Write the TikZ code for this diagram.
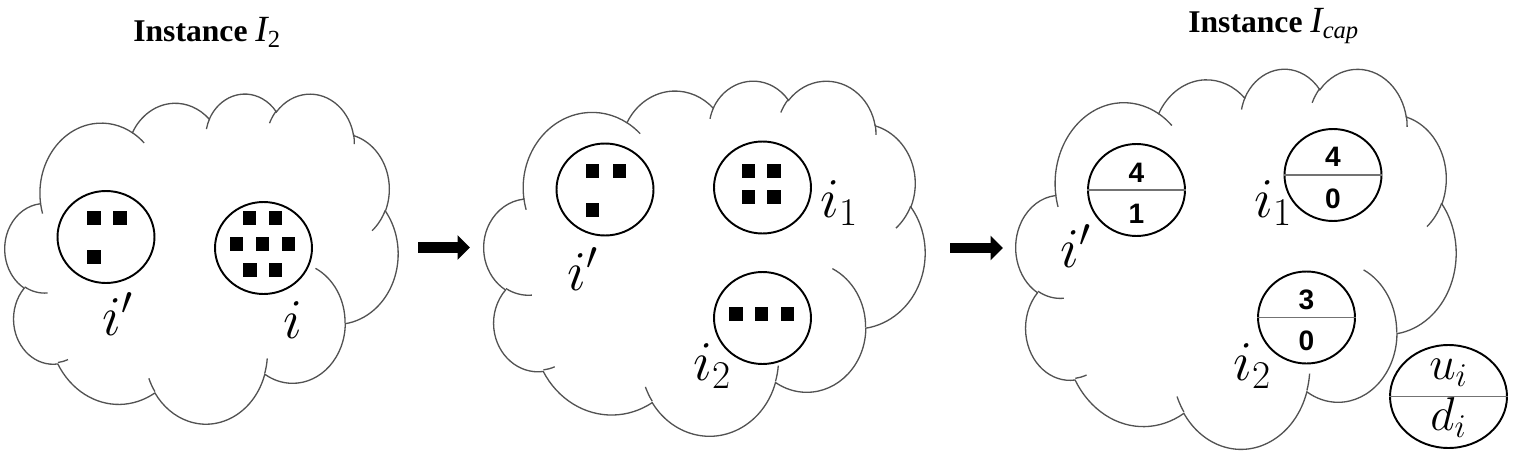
\RequirePackage{fix-cm}
\documentclass[tikz,border=0pt]{standalone}
\usepackage[no-math]{fontspec}
\setsansfont{Liberation Sans}
\newfontfamily\titlefont{Liberation Serif}
\usetikzlibrary{arrows.meta,shapes.geometric,calc}

% visual angle -> parametric angle on an ellipse
\tikzset{declare function={cpa(\wa,\hb,\ang)=\ang+Mod(atan2(\wa*sin(\ang),\hb*cos(\ang))-\ang+180,360)-180;}}
\newcommand{\carc}[4]{arc[x radius=#1, y radius=#2, start angle={cpa(#1,#2,#3)}, end angle={cpa(#1,#2,#3+#4)}]}

% cloud in a box: left, top, width, height
\newcommand{\drawcloud}[4]{%
  \begin{scope}[shift={(#1,#2)}, xscale=#3/43.2, yscale=#4/43.2]
    \draw[cloudline] (3.900,14.370) \carc{6.753}{9.190}{-190.4875}{123.7805}
      \carc{5.333}{7.267}{-144.1024}{89.9452}
      \carc{4.365}{5.945}{-145.8079}{99.7230}
      \carc{4.857}{6.595}{-130.9861}{117.2417}
      \carc{5.333}{7.273}{-78.7089}{109.0269}
      \carc{6.775}{9.220}{-46.2673}{130.2690}
      \carc{5.785}{7.867}{0.6250}{114.0333}
      \carc{6.752}{9.215}{22.4516}{115.1726}
      \carc{7.720}{10.543}{66.2426}{75.7110}
      \carc{4.360}{5.918}{-274.9421}{146.7356}
      \carc{4.345}{5.945}{-246.8285}{152.5189} -- cycle;
    \draw[cloudline]
      (4.693,26.177) \carc{4.345}{5.945}{86.742}{26.4295}
      (6.928,34.899) \carc{4.360}{5.918}{73.6105}{11.4475}
      (16.478,39.090) \carc{6.752}{9.215}{137.6242}{14.0811}
      (28.827,34.751) \carc{6.752}{9.215}{6.4533}{15.9984}
      (34.129,22.954) \carc{5.785}{7.867}{-70.2924}{70.9174}
      (41.798,15.354) \carc{5.333}{7.273}{30.3180}{27.7515}
      (38.324,5.426) \carc{4.857}{6.595}{-13.7443}{14.8589}
      (29.078,3.952) \carc{4.857}{6.595}{-149.1815}{18.1954}
      (22.141,4.720) \carc{4.365}{5.945}{-163.4943}{17.6864}
      (14.000,5.192) \carc{6.753}{9.190}{-66.7070}{12.3194}
      (4.127,15.789) \carc{6.753}{9.190}{157.6544}{11.8582};
  \end{scope}}

\begin{document}
\begin{tikzpicture}[x=0.02cm, y=-0.02cm,
    cloudline/.style={draw=black!68, line width=0.75pt},
    pool/.style={draw, ellipse, line width=1.1pt, fill=white,
                 minimum width=1.94cm, minimum height=1.84cm, inner sep=0pt},
    token/.style={fill=black, minimum size=0.27cm, inner sep=0pt},
    divider/.style={draw=black!55, line width=1.1pt},
    lab/.style={inner sep=0pt, anchor=base west, font=\fontsize{32}{34}\selectfont},
    keylab/.style={inner sep=0pt, anchor=base, font=\fontsize{27}{29}\selectfont},
    num/.style={inner sep=0pt, anchor=base, font=\sffamily\bfseries\fontsize{16}{18}\selectfont},
    ttl/.style={inner sep=0pt, anchor=base west, font=\titlefont\fontsize{18}{20}\selectfont},
    bigarrow/.style={line width=0.22cm, -{Triangle[length=0.25cm, width=0.48cm]}}]
    \useasboundingbox (0,0) rectangle (1525,473);

    % titles
    \node[ttl] (ttl1) at (133,42) {\bfseries Instance\ \mdseries\itshape\fontsize{21}{22}\selectfont I\raisebox{-0.35ex}{\upshape\fontsize{14}{14}\selectfont 2}};
    \node[ttl] (ttl2) at (1188,33) {\bfseries Instance\ \mdseries\itshape\fontsize{21}{22}\selectfont I\raisebox{-0.35ex}{\fontsize{14}{14}\selectfont cap}};

    % clouds
    \drawcloud{5}{93}{393}{330}
    \drawcloud{484}{80}{441}{355}
    \drawcloud{1016}{68}{440}{380}

    % instance I_2
    \node[pool] (p1a) at (106,237) {};
    \node[pool] (p1b) at (263.5,248) {};
    \foreach \x/\y [count=\k] in {94/218, 120/218, 94/257}
        \node[token] (s1a-\k) at (\x,\y) {};
    \foreach \x/\y [count=\k] in {249.5/218, 275.5/218, 236.5/244, 262.5/244,
                                  288.5/244, 250/270, 275.5/270}
        \node[token] (s1b-\k) at (\x,\y) {};
    \node[lab] (l1a) at (102,335) {$i'$};
    \node[lab] (l1b) at (283,338) {$i$};

    % split
    \node[pool] (p2a) at (605,189.5) {};
    \node[pool] (p2b) at (762.5,187.5) {};
    \node[pool] (p2c) at (762.5,318) {};
    \foreach \x/\y [count=\k] in {592.5/171, 619.5/171, 592.5/210}
        \node[token] (s2a-\k) at (\x,\y) {};
    \foreach \x/\y [count=\k] in {748.5/171, 774/171, 748.5/197, 774/197}
        \node[token] (s2b-\k) at (\x,\y) {};
    \foreach \x/\y [count=\k] in {736/314, 761.5/314, 787.5/314}
        \node[token] (s2c-\k) at (\x,\y) {};
    \node[lab] (l2a) at (567,290) {$i'$};
    \node[lab] (l2b) at (820,217) {$i_1$};
    \node[lab] (l2c) at (693,380) {$i_2$};

    % instance I_cap
    \foreach \n/\x/\y/\u/\d in {p3a/1136.5/190/4/1, p3b/1333/175/4/0, p3c/1306.5/317.5/3/0} {
        \node[pool] (\n) at (\x,\y) {};
        \draw[divider] (\n.west) -- (\n.east);
        \node[num] (\n-u) at ($(\n.center)+(0,-8)$) {\u};
        \node[num] (\n-d) at ($(\n.center)+(0,33)$) {\d};
    }
    \node[lab] (l3a) at (1060,267) {$i'$};
    \node[lab] (l3b) at (1254,217) {$i_1$};
    \node[lab] (l3c) at (1233,380) {$i_2$};

    \node[pool, minimum width=2.34cm, minimum height=2.06cm] (key) at (1448.5,396.5) {};
    \draw[divider] (key.west) -- (key.east);
    \node[keylab] (key-u) at ($(key.center)+(0,-17)$) {$u_i$};
    \node[keylab] (key-d) at ($(key.center)+(0,34)$) {$d_i$};

    % arrows
    \coordinate (a1s) at (418,247.5);
    \coordinate (a1e) at (470,247.5);
    \coordinate (a2s) at (950,248);
    \coordinate (a2e) at (1003,248);
    \draw[bigarrow] (a1s) -- (a1e);
    \draw[bigarrow] (a2s) -- (a2e);
\end{tikzpicture}
\end{document}
